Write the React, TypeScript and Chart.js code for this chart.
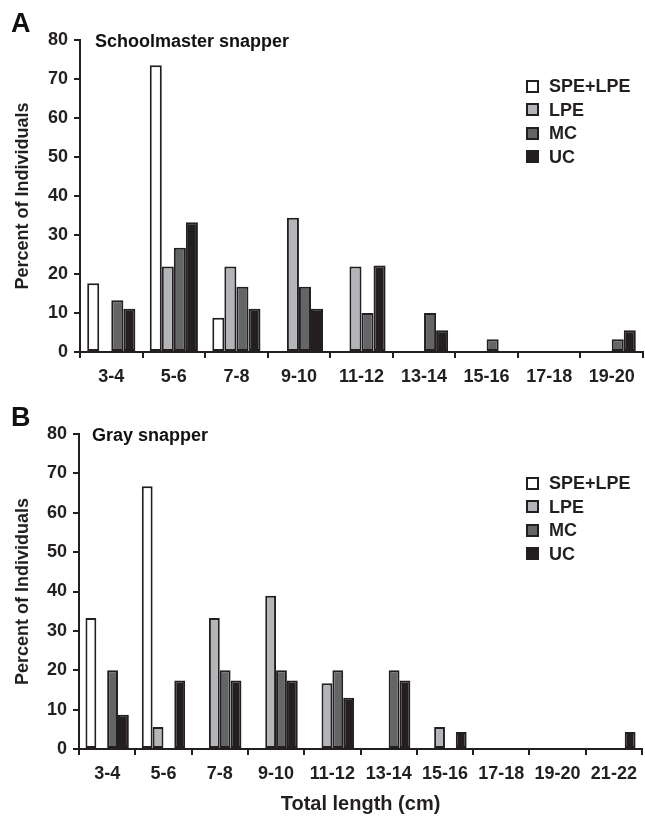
import React, { useEffect, useRef } from 'react';
import { Chart, registerables } from 'chart.js';

Chart.register(...registerables);

// ---- data ----
const seriesNames = ['SPE+LPE', 'LPE', 'MC', 'UC'];
const seriesColors = ['#ffffff', '#b3b5b8', '#646567', '#231f20'];
const yMin = 0;
const yMax = 80;
const yStep = 10;

const categoriesA = ['3-4', '5-6', '7-8', '9-10', '11-12', '13-14', '15-16', '17-18', '19-20'];
const aSpeLpe = [17.6, 73.5, 8.8, 0, 0, 0, 0, 0, 0];
const aLpe = [0, 21.9, 21.9, 34.4, 21.9, 0, 0, 0, 0];
const aMc = [13.3, 26.7, 16.7, 16.7, 10.0, 10.0, 3.3, 0, 3.3];
const aUc = [11.1, 33.3, 11.1, 11.1, 22.2, 5.6, 0, 0, 5.6];

const categoriesB = ['3-4', '5-6', '7-8', '9-10', '11-12', '13-14', '15-16', '17-18', '19-20', '21-22'];
const bSpeLpe = [33.3, 66.7, 0, 0, 0, 0, 0, 0, 0, 0];
const bLpe = [0, 5.6, 33.3, 38.9, 16.7, 0, 5.6, 0, 0, 0];
const bMc = [20.0, 0, 20.0, 20.0, 20.0, 20.0, 0, 0, 0, 0];
const bUc = [8.7, 17.4, 17.4, 17.4, 13.0, 17.4, 4.3, 0, 0, 4.3];

const titleA = 'Schoolmaster snapper';
const titleB = 'Gray snapper';
const yTitle = 'Percent of Individuals';
const xTitle = 'Total length (cm)';

const FONT = '"Liberation Sans", Arial, Helvetica, sans-serif';
const INK = '#231f20';

type PanelProps = {
  top: number;
  height: number;
  cats: string[];
  series: number[][];
  padTop: number;
  axisLeft: number;
  xAxisHeight: number;
  showXTitle: boolean;
};

function Panel(p: PanelProps) {
  const ref = useRef<HTMLCanvasElement | null>(null);
  useEffect(() => {
    if (!ref.current) return;
    const chart = new Chart(ref.current, {
      type: 'bar',
      data: {
        labels: p.cats,
        datasets: p.series.map((vals, i) => ({
          label: seriesNames[i],
          data: vals.map((v) => (v === 0 ? null : v)),
          backgroundColor: seriesColors[i],
          borderColor: INK,
          borderWidth: 2,
          borderSkipped: false,
          categoryPercentage: 0.77,
          barPercentage: 1.0,
        })),
      },
      options: {
        responsive: false,
        animation: false,
        devicePixelRatio: 1,
        layout: { padding: { top: p.padTop, right: 2, left: 0, bottom: 0 } },
        plugins: { legend: { display: false }, tooltip: { enabled: false }, title: { display: false } },
        scales: {
          x: {
            grid: {
              display: true,
              offset: true,
              drawOnChartArea: false,
              drawTicks: true,
              tickLength: 6,
              color: INK,
              lineWidth: 2,
            },
            border: { display: true, color: INK, width: 2 },
            ticks: {
              color: INK,
              padding: 8,
              maxRotation: 0,
              autoSkip: false,
              font: { family: FONT, size: 18, weight: 'bold' },
            },
            title: {
              display: p.showXTitle,
              text: xTitle,
              color: INK,
              padding: { top: 0, bottom: 2 },
              font: { family: FONT, size: 20, weight: 'bold' },
            },
            afterFit: (scale: any) => {
              scale.height = p.xAxisHeight;
            },
          },
          y: {
            min: yMin,
            max: yMax,
            grid: {
              display: true,
              drawOnChartArea: false,
              drawTicks: true,
              tickLength: 6,
              color: INK,
              lineWidth: 2,
            },
            border: { display: true, color: INK, width: 2 },
            ticks: {
              stepSize: yStep,
              color: INK,
              padding: 6,
              font: { family: FONT, size: 18, weight: 'bold' },
            },
            title: {
              display: true,
              text: yTitle,
              color: INK,
              padding: { top: 12, bottom: 0 },
              font: { family: FONT, size: 18, weight: 'bold' },
            },
            afterFit: (scale: any) => {
              scale.width = p.axisLeft;
            },
          },
        },
      },
    });
    return () => chart.destroy();
  }, []);
  return (
    <canvas
      ref={ref}
      width={645}
      height={p.height}
      style={{ position: 'absolute', left: 0, top: p.top, width: 645, height: p.height }}
    />
  );
}

function Legend({ top }: { top: number }) {
  return (
    <>
      {seriesNames.map((name, i) => {
        const cy = top + i * 23.5;
        return (
          <div key={name}>
            <div
              style={{
                position: 'absolute',
                left: 526,
                top: cy - 6.5,
                width: 13,
                height: 13,
                boxSizing: 'border-box',
                border: `2px solid ${INK}`,
                background: seriesColors[i],
              }}
            />
            <div
              style={{
                position: 'absolute',
                left: 549,
                top: cy - 9,
                fontFamily: FONT,
                fontWeight: 'bold',
                fontSize: 18,
                lineHeight: '18px',
                color: INK,
                whiteSpace: 'nowrap',
              }}
            >
              {name}
            </div>
          </div>
        );
      })}
    </>
  );
}

function Label({ text, left, top, size }: { text: string; left: number; top: number; size: number }) {
  return (
    <div
      style={{
        position: 'absolute',
        left,
        top,
        fontFamily: FONT,
        fontWeight: 'bold',
        fontSize: size,
        lineHeight: `${size}px`,
        color: '#111',
        whiteSpace: 'nowrap',
      }}
    >
      {text}
    </div>
  );
}

export default function App() {
  return (
    <div
      style={{
        position: 'fixed',
        left: 0,
        top: 0,
        width: 645,
        height: 818,
        background: '#ffffff',
        overflow: 'hidden',
      }}
    >
      <Panel
        top={0}
        height={395}
        cats={categoriesA}
        series={[aSpeLpe, aLpe, aMc, aUc]}
        padTop={40}
        axisLeft={80}
        xAxisHeight={43}
        showXTitle={false}
      />
      <Panel
        top={395}
        height={423}
        cats={categoriesB}
        series={[bSpeLpe, bLpe, bMc, bUc]}
        padTop={39}
        axisLeft={79}
        xAxisHeight={69}
        showXTitle={true}
      />
      <Label text="A" left={11} top={10} size={27} />
      <Label text="B" left={11} top={404} size={27} />
      <Label text={titleA} left={95} top={32} size={18} />
      <Label text={titleB} left={92} top={426} size={18} />
      <Legend top={86} />
      <Legend top={483} />
    </div>
  );
}
